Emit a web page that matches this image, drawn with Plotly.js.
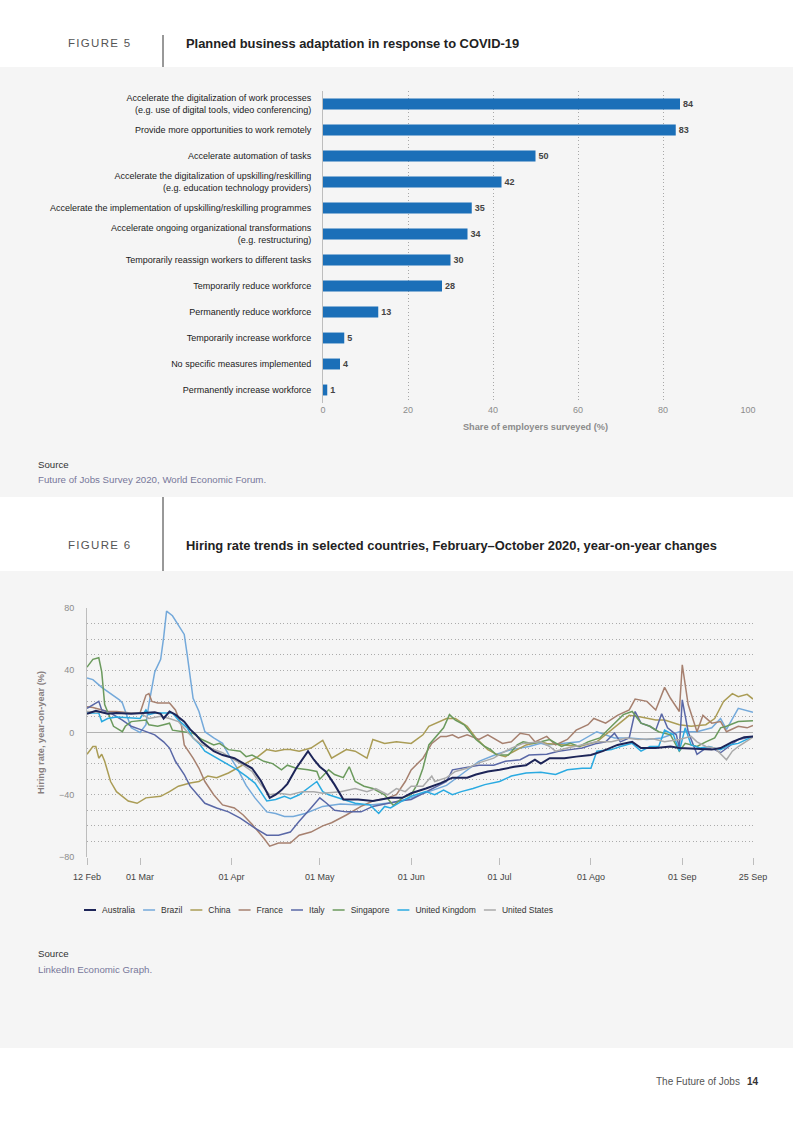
<!DOCTYPE html>
<html><head><meta charset="utf-8">
<script src="https://cdn.plot.ly/plotly-3.0.1.min.js"></script>
<style>
html,body{margin:0;padding:0;background:#fff;}
#chart{width:793px;height:1122px;}
text[data-unformatted="FIGURE 5"], text[data-unformatted="FIGURE 6"]{letter-spacing:1.3px;}
</style></head><body><div id="chart"></div><script>
// ---------- Figure 5 data ----------
const measures = [
 'Accelerate the digitalization of work processes<br>(e.g. use of digital tools, video conferencing)',
 'Provide more opportunities to work remotely',
 'Accelerate automation of tasks',
 'Accelerate the digitalization of upskilling/reskilling<br>(e.g. education technology providers)',
 'Accelerate the implementation of upskilling/reskilling programmes',
 'Accelerate ongoing organizational transformations<br>(e.g. restructuring)',
 'Temporarily reassign workers to different tasks',
 'Temporarily reduce workforce',
 'Permanently reduce workforce',
 'Temporarily increase workforce',
 'No specific measures implemented',
 'Permanently increase workforce'
];
const shares = [84, 83, 50, 42, 35, 34, 30, 28, 13, 5, 4, 1];
const shareTicks = [0, 20, 40, 60, 80, 100];

// ---------- Figure 6 data ----------
const tickDates = ['2020-02-12','2020-03-01','2020-04-01','2020-05-01','2020-06-01','2020-07-01','2020-08-01','2020-09-01','2020-09-25'];
const tickLabels = ['12 Feb','01 Mar','01 Apr','01 May','01 Jun','01 Jul','01 Ago','01 Sep','25 Sep'];
const rateTicks = [-80, -40, 0, 40, 80];
const countries = ['Australia','Brazil','China','France','Italy','Singapore','United Kingdom','United States'];

const australiaRate = [['02-12',12],['02-15',14],['02-19',12],['02-22',12.5],['02-27',12],['03-02',12.5],['03-06',13],['03-08',12],['03-09',9],['03-11',13.5],['03-13',11.5],['03-16',7],['03-18',2],['03-20',-1.5],['03-22',-6],['03-26',-12],['03-29',-14.5],['04-02',-16.5],['04-05',-19.5],['04-08',-23],['04-11',-31],['04-14',-42],['04-16',-40],['04-18',-37],['04-20',-33],['04-23',-23],['04-27',-12],['04-29',-17.5],['05-01',-22],['05-03',-25],['05-06',-33.5],['05-09',-43],['05-14',-43],['05-19',-44],['05-25',-42],['05-29',-42],['06-01',-39],['06-06',-36],['06-11',-32.5],['06-15',-29],['06-20',-29],['06-23',-27],['06-27',-25],['07-01',-24],['07-06',-22],['07-10',-21],['07-13',-17.5],['07-15',-20],['07-18',-16.5],['07-23',-16.5],['07-27',-15.5],['08-01',-14.5],['08-05',-12],['08-10',-8],['08-15',-6],['08-18',-10],['08-23',-10],['08-28',-9],['08-31',-10],['09-06',-10.5],['09-11',-11],['09-14',-10],['09-18',-6],['09-22',-3],['09-25',-2.5]];

const brazilRate = [['02-12',35],['02-14',34],['02-17',29],['02-20',25],['02-23',21],['02-24',19],['02-27',3],['02-29',1],['03-01',0],['03-03',5],['03-04',18],['03-06',39],['03-08',47],['03-09',61],['03-10',78],['03-12',75],['03-14',69],['03-16',63],['03-17',50],['03-18',35],['03-19',22],['03-21',13.5],['03-23',0.5],['03-26',-3.5],['03-29',-7],['03-31',-14],['04-03',-23],['04-06',-34],['04-09',-42],['04-13',-51],['04-16',-52],['04-19',-54],['04-22',-54],['04-26',-52],['05-02',-47.5],['05-08',-46],['05-13',-46.5],['05-19',-46.5],['05-26',-45],['06-01',-42],['06-07',-38],['06-13',-34],['06-18',-27],['06-24',-18.5],['06-30',-14],['07-05',-11],['07-11',-9],['07-15',-7],['07-17',-8],['07-23',-7],['07-28',-6],['08-03',0.5],['08-09',-3.5],['08-14',-3.5],['08-20',-4.5],['08-25',-3.5],['08-31',0.5],['09-06',0.5],['09-11',3],['09-14',9],['09-16',2],['09-20',15.5],['09-25',13]];

const chinaRate = [['02-12',-14],['02-14',-9],['02-15',-9],['02-16',-16.5],['02-17',-14],['02-18',-18.5],['02-20',-31.5],['02-22',-38],['02-26',-44],['02-29',-45.5],['03-03',-42],['03-08',-41],['03-11',-38],['03-14',-34.5],['03-18',-32.5],['03-21',-31.5],['03-24',-28],['03-27',-29],['03-31',-26],['04-04',-22],['04-07',-18.5],['04-10',-15.5],['04-13',-11],['04-16',-12],['04-19',-11],['04-21',-11],['04-24',-12],['04-28',-10],['05-02',-5],['05-05',-16.5],['05-10',-11],['05-13',-12],['05-17',-16.5],['05-19',-4.5],['05-23',-7],['05-27',-6],['06-01',-7],['06-05',-1.5],['06-07',4],['06-11',7],['06-13',9],['06-16',9],['06-20',4],['06-23',-3.5],['06-27',-11],['06-30',-14],['07-03',-15.5],['07-05',-13],['07-10',-8],['07-15',-6],['07-17',-7],['07-23',-8],['07-28',-9],['08-03',-6],['08-09',3],['08-14',11],['08-18',10],['08-23',8],['08-26',8],['08-31',5],['09-04',4],['09-09',5],['09-12',9],['09-15',20],['09-18',25],['09-20',23],['09-23',24.5],['09-25',21.5]];

const franceRate = [['02-12',16.5],['02-14',16],['02-19',13.5],['02-22',13.5],['02-27',12.5],['03-01',12.5],['03-03',24],['03-04',25],['03-05',20],['03-07',19],['03-11',19],['03-13',14.5],['03-15',5],['03-16',-8],['03-19',-16.5],['03-21',-23],['03-23',-31.5],['03-26',-40],['03-29',-46.5],['04-02',-48.5],['04-05',-53],['04-08',-59],['04-12',-68],['04-14',-73],['04-17',-71],['04-21',-71],['04-24',-66],['04-28',-64],['05-02',-60],['05-05',-58],['05-10',-53],['05-15',-47.5],['05-19',-44],['05-24',-42],['05-27',-40],['05-30',-31.5],['06-01',-24],['06-05',-16.5],['06-08',-7],['06-11',-2.5],['06-13',-2.5],['06-15',-1.5],['06-17',-3.5],['06-20',-1.5],['06-24',-4.5],['06-27',-1.5],['07-02',-7],['07-05',-6],['07-08',-0.5],['07-11',-1.5],['07-13',-6],['07-17',-2.5],['07-20',-8],['07-24',-4.5],['07-27',1.5],['07-31',5],['08-02',9],['08-06',6],['08-10',11],['08-14',14.5],['08-16',21.5],['08-20',20],['08-23',14.5],['08-26',29],['08-28',22],['08-31',13.5],['09-01',43.5],['09-03',18],['09-06',0.5],['09-08',11],['09-11',6],['09-14',7],['09-16',0.5],['09-20',4],['09-23',3],['09-25',4.5]];

const italyRate = [['02-12',15.5],['02-14',18],['02-16',20],['02-17',14.5],['02-20',12.5],['02-24',8],['02-27',4],['03-01',2],['03-03',0.5],['03-06',-1.5],['03-09',-6],['03-11',-10],['03-13',-18.5],['03-16',-27],['03-18',-34.5],['03-20',-39],['03-23',-45.5],['03-27',-48.5],['03-31',-51],['04-04',-55],['04-09',-61.5],['04-13',-66],['04-17',-66],['04-21',-64],['04-24',-57],['04-28',-48.5],['05-01',-42],['05-03',-45],['05-06',-50],['05-10',-51],['05-15',-51],['05-19',-47.5],['05-24',-45.5],['05-28',-44],['06-01',-43],['06-05',-39],['06-08',-36],['06-13',-31.5],['06-15',-24],['06-18',-23],['06-24',-21],['06-29',-21],['07-03',-18.5],['07-08',-17.5],['07-11',-14.5],['07-17',-14],['07-21',-12],['07-25',-11],['07-29',-10],['08-03',-7],['08-06',-6],['08-09',-0.5],['08-11',-6],['08-14',-3.5],['08-16',13.5],['08-18',6],['08-21',4],['08-23',1.5],['08-25',12],['08-27',3],['08-30',-1.5],['08-31',-10],['09-01',21],['09-03',0.5],['09-06',-14],['09-09',-10],['09-12',-11],['09-14',-13],['09-17',-9],['09-20',-4.5],['09-25',-2.5]];

const singaporeRate = [['02-12',42],['02-14',47],['02-16',48],['02-17',39],['02-18',18],['02-20',8],['02-21',4],['02-24',0.5],['02-25',4],['02-27',7],['03-01',7.5],['03-03',8],['03-04',5],['03-07',4],['03-09',5],['03-11',6],['03-12',1.5],['03-16',0.5],['03-19',-0.5],['03-22',-4.5],['03-26',-8],['03-28',-7],['03-31',-11],['04-04',-12],['04-06',-15.5],['04-08',-14.5],['04-12',-18.5],['04-15',-20],['04-18',-24],['04-20',-21],['04-23',-23],['04-27',-24],['04-30',-25],['05-01',-30],['05-04',-24],['05-06',-27],['05-09',-29],['05-11',-22],['05-13',-31.5],['05-16',-34.5],['05-19',-36],['05-23',-40],['05-26',-47],['05-29',-42],['06-01',-40],['06-03',-33.5],['06-05',-23],['06-07',-8],['06-10',-1.5],['06-12',3],['06-14',11.5],['06-16',8],['06-19',5],['06-21',0.5],['06-23',-4.5],['06-26',-9],['06-28',-11],['06-30',-14.5],['07-04',-14.5],['07-07',-8],['07-09',-6],['07-12',-7],['07-15',-6],['07-18',-4.5],['07-22',-9],['07-25',-7],['07-28',-9],['07-31',-6],['08-04',-3.5],['08-08',4],['08-12',11.5],['08-15',13.5],['08-18',6],['08-21',4],['08-24',0.5],['08-28',-1.5],['08-31',-12],['09-02',-7],['09-06',-9],['09-09',-6],['09-12',-3.5],['09-14',3],['09-16',4],['09-20',7],['09-25',7.5]];

const ukRate = [['02-12',12.5],['02-16',12.5],['02-17',7],['02-19',9],['02-22',10],['02-27',9.5],['03-01',9],['03-03',14.5],['03-04',11.5],['03-06',12.5],['03-10',12.5],['03-12',12.5],['03-14',8],['03-17',3],['03-19',-3.5],['03-21',-7],['03-23',-12],['03-27',-16.5],['03-30',-19.5],['04-03',-24],['04-06',-28],['04-09',-32.5],['04-13',-44],['04-16',-43],['04-19',-41],['04-21',-42.5],['04-24',-40],['04-27',-36],['04-30',-31.5],['05-02',-38],['05-04',-40],['05-09',-43],['05-13',-45.5],['05-18',-46.5],['05-21',-52],['05-23',-47.5],['05-25',-48.5],['05-29',-44],['06-01',-41],['06-06',-38],['06-09',-40],['06-12',-37],['06-15',-40],['06-18',-38],['06-22',-36],['06-26',-33.5],['07-01',-31.5],['07-05',-28],['07-10',-26],['07-15',-25.5],['07-20',-27],['07-24',-24],['07-29',-23],['08-01',-23],['08-03',-12],['08-08',-11],['08-11',-9],['08-15',-7],['08-18',-12],['08-21',-9],['08-24',-9],['08-26',1.5],['08-29',-1.5],['08-31',-12],['09-02',3],['09-04',-8],['09-07',-10],['09-10',-9],['09-14',-11],['09-17',-8],['09-20',-7],['09-25',-2.5]];

const usRate = [['02-12',13.5],['02-16',13],['02-20',12.5],['02-25',12.5],['03-01',12.5],['03-04',9],['03-08',10.5],['03-11',9],['03-14',7],['03-17',0.5],['03-19',-3.5],['03-22',-8],['03-26',-11],['03-29',-13],['04-01',-16.5],['04-05',-21],['04-08',-25],['04-11',-33.5],['04-14',-40],['04-17',-39],['04-21',-40],['04-25',-38],['04-29',-38],['05-02',-39],['05-08',-38],['05-13',-36],['05-17',-38],['05-20',-36],['05-24',-40],['05-27',-36],['05-30',-38],['06-01',-34.5],['06-05',-34.5],['06-08',-28],['06-09',-31.5],['06-13',-29],['06-16',-25],['06-20',-23],['06-24',-19.5],['06-29',-16.5],['07-02',-13],['07-05',-10],['07-09',-7],['07-15',-6],['07-18',-9],['07-20',-12],['07-24',-10],['07-29',-8],['08-03',-6],['08-08',-6],['08-13',-3.5],['08-17',-4.5],['08-22',-4],['08-26',-6],['08-31',-4.5],['09-04',-2.5],['09-06',-6],['09-09',-9],['09-12',-10],['09-16',-17.5],['09-18',-12],['09-20',-9],['09-25',-3]];

const seriesByCountry = {
 'Australia': australiaRate, 'Brazil': brazilRate, 'China': chinaRate, 'France': franceRate,
 'Italy': italyRate, 'Singapore': singaporeRate, 'United Kingdom': ukRate, 'United States': usRate
};

// ---------- styles ----------
const W = 793, H = 1122;
const px = x => x / W, py = y => 1 - y / H;
const FONT = '"Liberation Sans", Arial, Helvetica, sans-serif';
const DOTS = '1px,2.5px';
const lineStyle = {
 'Australia': {color:'#1d2558', width:2},
 'Brazil': {color:'#74a9da', width:1.5},
 'China': {color:'#aa9c55', width:1.5},
 'France': {color:'#a6806f', width:1.5},
 'Italy': {color:'#5967a6', width:1.5},
 'Singapore': {color:'#6b9a5d', width:1.5},
 'United Kingdom': {color:'#2aaae1', width:1.5},
 'United States': {color:'#aaaaaa', width:1.5}
};
const drawOrder = ['Brazil','China','France','Italy','Singapore','United Kingdom','United States','Australia'];

const traces = [{
 type:'bar', orientation:'h', x:shares, y:measures, xaxis:'x', yaxis:'y',
 marker:{color:'#1b6fb8'}, texttemplate:'<b>%{x}</b>', textposition:'outside',
 textfont:{size:9, color:'#444', family:FONT}, cliponaxis:false, showlegend:false, hoverinfo:'skip'
}];
drawOrder.forEach(c => {
 const s = seriesByCountry[c];
 traces.push({
  type:'scatter', mode:'lines', name:c, xaxis:'x2', yaxis:'y2',
  x: s.map(p => '2020-' + p[0]), y: s.map(p => p[1]),
  line:{color:lineStyle[c].color, width:lineStyle[c].width},
  legendrank: countries.indexOf(c) + 1, hoverinfo:'skip'
 });
});

const ann = (x, y, text, font, extra) => Object.assign({xref:'paper', yref:'paper', x:px(x), y:py(y), text:text,
  showarrow:false, xanchor:'left', yanchor:'middle', font:Object.assign({family:FONT}, font)}, extra||{});

const layout = {
 width:W, height:H, autosize:false, margin:{l:0, r:0, t:0, b:0},
 paper_bgcolor:'#ffffff', plot_bgcolor:'rgba(0,0,0,0)',
 font:{family:FONT, size:9, color:'#222'},
 bargap:0.58,
 xaxis:{domain:[px(323), px(748)], anchor:'y', range:[0, 100], tickmode:'array', tickvals:shareTicks,
  showgrid:true, gridcolor:'#a8a8a8', griddash:DOTS, gridwidth:1, zeroline:false, showline:false, ticks:'',
  tickfont:{size:9, color:'#8c8c8c'},
  title:{text:'<b>Share of employers surveyed (%)</b>', font:{size:9.2, color:'#8c8c8c'}, standoff:9}},
 yaxis:{domain:[py(403), py(91)], anchor:'x', type:'category', autorange:'reversed', showgrid:false,
  showline:true, linecolor:'#bdbdbd', linewidth:1, ticks:'outside', ticklen:9, tickcolor:'rgba(0,0,0,0)',
  tickfont:{size:9, color:'#1a1a1a'}},
 xaxis2:{domain:[px(87), px(753)], anchor:'y2', type:'date', range:['2020-02-12','2020-09-25'],
  tickmode:'array', tickvals:tickDates, ticktext:tickLabels, ticks:'outside', ticklen:7, tickcolor:'#bdbdbd',
  showgrid:false, showline:false, zeroline:false, tickfont:{size:9, color:'#444'}, ticklabelstandoff:4},
 yaxis2:{domain:[py(857), py(608)], anchor:'x2', range:[-80, 80], tickmode:'array', tickvals:rateTicks,
  showgrid:true, gridcolor:'#ababab', griddash:DOTS, gridwidth:1,
  minor:{dtick:10, tick0:0, showgrid:true, gridcolor:'#ababab', griddash:DOTS, gridwidth:1},
  zeroline:true, zerolinecolor:'#b3b3b3', zerolinewidth:1, showline:true, linecolor:'#bdbdbd', linewidth:1,
  ticks:'outside', ticklen:10, tickcolor:'rgba(0,0,0,0)', tickfont:{size:9, color:'#8c8c8c'},
  title:{text:'<b>Hiring rate, year-on-year (%)</b>', font:{size:9.2, color:'#887f7f'}, standoff:12}},
 showlegend:true,
 legend:{orientation:'h', x:px(80), y:py(910), xanchor:'left', yanchor:'middle',
  font:{size:8.5, color:'#333'}, bgcolor:'rgba(0,0,0,0)', traceorder:'normal'},
 shapes:[
  {type:'rect', xref:'paper', yref:'paper', x0:0, x1:1, y0:py(497), y1:py(67), fillcolor:'#f5f5f5', line:{width:0}, layer:'below'},
  {type:'rect', xref:'paper', yref:'paper', x0:0, x1:1, y0:py(1048), y1:py(571), fillcolor:'#f5f5f5', line:{width:0}, layer:'below'},
  {type:'line', xref:'paper', yref:'paper', x0:px(163), x1:px(163), y0:py(67), y1:py(35), line:{color:'#333', width:1}},
  {type:'line', xref:'paper', yref:'paper', x0:px(163), x1:px(163), y0:py(571), y1:py(497), line:{color:'#333', width:1}}
 ],
 annotations:[
  ann(66, 43, 'FIGURE 5', {size:11.5, color:'#555'}),
  ann(184, 43, '<b>Planned business adaptation in response to COVID-19</b>', {size:12.9, color:'#222'}),
  ann(36, 464, 'Source', {size:9.7, color:'#333'}),
  ann(36, 480, 'Future of Jobs Survey 2020, World Economic Forum.', {size:9.7, color:'#77779a'}),
  ann(66, 545, 'FIGURE 6', {size:11.5, color:'#555'}),
  ann(184, 545, '<b>Hiring rate trends in selected countries, February–October 2020, year-on-year changes</b>', {size:12.9, color:'#222'}),
  ann(36, 953, 'Source', {size:9.7, color:'#333'}),
  ann(36, 969, 'LinkedIn Economic Graph.', {size:9.7, color:'#77779a'}),
  ann(742, 1081, 'The Future of Jobs', {size:10, color:'#555'}, {xanchor:'right'}),
  ann(745, 1081, '<b>14</b>', {size:10, color:'#333'})
 ]
};

Plotly.newPlot('chart', traces, layout, {displayModeBar:false, staticPlot:true}).then(gd => {
 // compact legend entries: short line swatches like the reference
 const groups = Array.from(gd.querySelectorAll('.legend .traces'));
 const getT = g => { const m = /translate\(\s*([-\d.e]+)[ ,]+([-\d.e]+)\s*\)/.exec(g.getAttribute('transform') || ''); return m ? [parseFloat(m[1]), parseFloat(m[2])] : [0, 0]; };
 groups.sort((a, b) => getT(a)[0] - getT(b)[0]);
 if (!groups.length) return;
 let x = getT(groups[0])[0];
 groups.forEach(g => {
  const y = getT(g)[1];
  g.setAttribute('transform', 'translate(' + x + ',' + y + ')');
  g.querySelectorAll('.legendlines path').forEach(p => p.setAttribute('d', 'M4,0h12'));
  const txt = g.querySelector('.legendtext');
  if (txt) { txt.setAttribute('x', 22); x += 22 + txt.getComputedTextLength() + 4; }
 });
});
</script></body></html>
